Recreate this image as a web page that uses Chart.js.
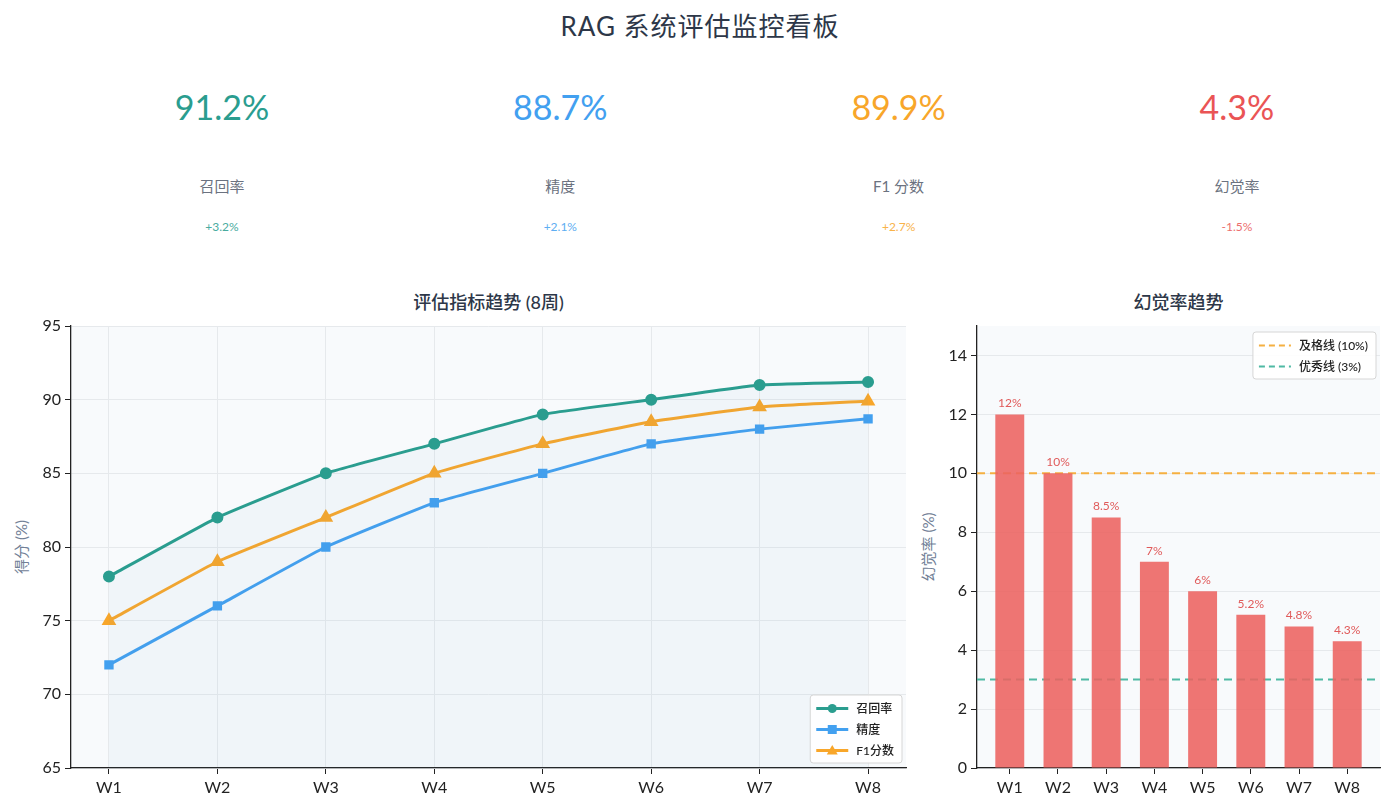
<!DOCTYPE html>
<html>
<head>
<meta charset="utf-8">
<script src="https://cdn.jsdelivr.net/npm/chart.js@4.4.0/dist/chart.umd.min.js"></script>
<style>
  body { margin: 0; width: 1400px; height: 812px; background: #fff; position: relative; overflow: hidden;
         font-family: "Lato", "Noto Sans CJK SC", sans-serif; color: #2d3748; }
  .abs { position: absolute; }
  .main-title { left: 0; width: 1400px; top: 6px; text-align: center; font-size: 26px; letter-spacing: 1px; }
  .kpi { width: 338px; text-align: center; }
  .kpi .val { position: absolute; top: 86px; width: 100%; font-size: 34px; }
  .kpi .lbl { position: absolute; top: 175px; width: 100%; font-size: 15px; color: #6b7280; }
  .kpi .dlt { position: absolute; top: 219px; width: 100%; font-size: 12px; opacity: 0.85; }
  .ctitle { top: 288px; text-align: center; font-size: 18px; font-weight: 500; color: #2d3748; }
  .ytitle { font-size: 15px; color: #718096; transform: translate(-50%, -50%) rotate(-90deg); white-space: nowrap; }
</style>
</head>
<body>
<div class="abs main-title">RAG 系统评估监控看板</div>
<div id="kpis"></div>

<div class="abs ctitle" style="left:71px;width:835px">评估指标趋势 (8周)</div>
<div class="abs ctitle" style="left:977px;width:403px">幻觉率趋势</div>
<div class="abs ytitle" style="left:20px;top:547px">得分 (%)</div>
<div class="abs ytitle" style="left:927px;top:547px">幻觉率 (%)</div>

<div class="abs" style="left:0;top:285px;width:915px;height:527px"><canvas id="trend"></canvas></div>
<div class="abs" style="left:915px;top:285px;width:485px;height:527px"><canvas id="halluc"></canvas></div>

<script>
const WEEKS = ['W1', 'W2', 'W3', 'W4', 'W5', 'W6', 'W7', 'W8'];
const RECALL = [78, 82, 85, 87, 89, 90, 91, 91.2];
const PRECISION = [72, 76, 80, 83, 85, 87, 88, 88.7];
const F1 = [75, 79, 82, 85, 87, 88.5, 89.5, 89.9];
const HALLUCINATION = [12, 10, 8.5, 7, 6, 5.2, 4.8, 4.3];
const PASS_LINE = 10;
const EXCELLENT_LINE = 3;

const KPI_LABELS = ['召回率', '精度', 'F1 分数', '幻觉率'];
const KPI_VALUES = ['91.2%', '88.7%', '89.9%', '4.3%'];
const KPI_DELTAS = ['+3.2%', '+2.1%', '+2.7%', '-1.5%'];

const C_RECALL = '#2a9d8f';
const C_PREC = '#42a0f0';
const C_F1 = '#f8a62a';
const C_RED = '#ea5455';
const KPI_COLORS = [C_RECALL, C_PREC, C_F1, C_RED];
const FONT = '"Lato", "Noto Sans CJK SC", sans-serif';

// KPI row
const kpiBox = document.getElementById('kpis');
KPI_LABELS.forEach((lbl, i) => {
    const d = document.createElement('div');
    d.className = 'abs kpi';
    d.style.left = (53 + i * 338.3) + 'px';
    d.style.top = '0px';
    d.innerHTML = `<div class="val" style="color:${KPI_COLORS[i]}">${KPI_VALUES[i]}</div>
        <div class="lbl">${lbl}</div>
        <div class="dlt" style="color:${KPI_COLORS[i]}">${KPI_DELTAS[i]}</div>`;
    kpiBox.appendChild(d);
});

const plotBg = {
    id: 'plotBg',
    beforeDraw(chart) {
        const { ctx, chartArea: a } = chart;
        ctx.save();
        ctx.fillStyle = '#f8fafc';
        ctx.fillRect(a.left, a.top, a.right - a.left, a.bottom - a.top);
        ctx.restore();
    }
};

function drawMarker(ctx, style, x, y, color) {
    ctx.fillStyle = color;
    ctx.beginPath();
    if (style === 'circle') {
        ctx.arc(x, y, 4.5, 0, Math.PI * 2);
    } else if (style === 'rect') {
        ctx.rect(x - 4.5, y - 4.5, 9, 9);
    } else if (style === 'triangle') {
        ctx.moveTo(x, y - 5.5); ctx.lineTo(x + 5.5, y + 4); ctx.lineTo(x - 5.5, y + 4); ctx.closePath();
    }
    ctx.fill();
}

// matplotlib-like legend box inside the plot area
function boxLegend(id, items, corner) {
    return {
        id,
        afterDraw(chart) {
            const { ctx, chartArea: a } = chart;
            ctx.save();
            ctx.font = '500 12px ' + FONT;
            const rowH = 21, sampleW = 32, pad = 6;
            const textW = Math.max(...items.map(it => ctx.measureText(it.label).width));
            const w = pad + sampleW + 8 + textW + pad + 2;
            const h = items.length * rowH + 5;
            const x = a.right - 4 - w;
            const y = corner === 'top' ? a.top + 6 : a.bottom - 5 - h;
            ctx.fillStyle = 'rgba(255,255,255,0.9)';
            ctx.strokeStyle = '#d6d6d6';
            ctx.lineWidth = 1;
            ctx.beginPath();
            ctx.roundRect(x, y, w, h, 3);
            ctx.fill(); ctx.stroke();
            items.forEach((it, i) => {
                const cy = y + 3 + rowH * i + rowH / 2;
                ctx.strokeStyle = it.color;
                ctx.lineWidth = it.dash ? 2 : 3;
                ctx.setLineDash(it.dash || []);
                ctx.beginPath();
                ctx.moveTo(x + pad, cy); ctx.lineTo(x + pad + sampleW, cy);
                ctx.stroke();
                ctx.setLineDash([]);
                if (it.marker) drawMarker(ctx, it.marker, x + pad + sampleW / 2, cy, it.color);
                ctx.fillStyle = '#222';
                ctx.textBaseline = 'middle';
                ctx.fillText(it.label, x + pad + sampleW + 8, cy + 1);
            });
            ctx.restore();
        }
    };
}

const barLabels = {
    id: 'barLabels',
    afterDatasetsDraw(chart) {
        const { ctx } = chart;
        const meta = chart.getDatasetMeta(0);
        ctx.save();
        ctx.font = '12px ' + FONT;
        ctx.fillStyle = '#e05a5a';
        ctx.textAlign = 'center';
        ctx.textBaseline = 'bottom';
        meta.data.forEach((el, i) => {
            ctx.fillText(HALLUCINATION[i] + '%', el.x, el.y - 5);
        });
        ctx.restore();
    }
};

const tickFont = { family: FONT, size: 16 };
const axisBorder = { display: true, color: '#222', width: 1.3 };

// ---- trend chart ----
const lineMargin = 0.35;
const toPoints = arr => arr.map((v, i) => ({ x: i, y: v }));
const lineSet = (label, data, color, marker, extra) => Object.assign({
    label, data: toPoints(data), borderColor: color, backgroundColor: color,
    pointBackgroundColor: color, pointBorderColor: color, pointStyle: marker,
    pointRadius: marker === 'triangle' ? 5.5 : 4.5,
    borderWidth: 3, tension: 0.12, fill: false
}, extra || {});

new Chart(document.getElementById('trend'), {
    type: 'line',
    data: {
        datasets: [
            lineSet('召回率', RECALL, C_RECALL, 'circle', { fill: { target: 'start', above: 'rgba(90,160,190,0.05)' } }),
            lineSet('精度', PRECISION, C_PREC, 'rect'),
            lineSet('F1分数', F1, C_F1, 'triangle')
        ]
    },
    options: {
        responsive: true,
        maintainAspectRatio: false,
        animation: false,
        layout: { padding: { top: 41, right: 9, left: 0, bottom: 0 } },
        scales: {
            x: {
                type: 'linear',
                min: -lineMargin,
                max: WEEKS.length - 1 + lineMargin,
                afterBuildTicks: s => { s.ticks = WEEKS.map((_, i) => ({ value: i })); },
                afterFit: s => { s.height = 44; },
                ticks: { callback: v => WEEKS[v], color: '#222', font: tickFont, padding: 4 },
                grid: { color: '#e6e9ec', tickColor: '#222', tickLength: 6 },
                border: axisBorder
            },
            y: {
                min: 65, max: 95,
                afterFit: s => { s.width = 71; },
                ticks: { stepSize: 5, color: '#222', font: tickFont, padding: 4 },
                grid: { color: '#e6e9ec', tickColor: '#222', tickLength: 6 },
                border: axisBorder
            }
        },
        plugins: { legend: { display: false }, tooltip: { enabled: false } }
    },
    plugins: [plotBg, boxLegend('trendLegend', [
        { label: '召回率', color: C_RECALL, marker: 'circle' },
        { label: '精度', color: C_PREC, marker: 'rect' },
        { label: 'F1分数', color: C_F1, marker: 'triangle' }
    ], 'bottom')]
});

// ---- hallucination chart ----
const barMargin = 0.68;
const xMin = -barMargin, xMax = WEEKS.length - 1 + barMargin;
const C_PASS = '#f5b041';
const C_EXC = '#4fb9a4';

new Chart(document.getElementById('halluc'), {
    type: 'bar',
    data: {
        datasets: [
            {
                label: '幻觉率', data: toPoints(HALLUCINATION),
                backgroundColor: 'rgba(236,98,96,0.88)', barPercentage: 0.6, categoryPercentage: 1
            },
            {
                type: 'line', label: '及格线 (10%)',
                data: [{ x: xMin, y: PASS_LINE }, { x: xMax, y: PASS_LINE }],
                borderColor: C_PASS, borderWidth: 2, borderDash: [8, 5], pointRadius: 0
            },
            {
                type: 'line', label: '优秀线 (3%)',
                data: [{ x: xMin, y: EXCELLENT_LINE }, { x: xMax, y: EXCELLENT_LINE }],
                borderColor: C_EXC, borderWidth: 2, borderDash: [8, 5], pointRadius: 0
            }
        ]
    },
    options: {
        responsive: true,
        maintainAspectRatio: false,
        animation: false,
        layout: { padding: { top: 41, right: 20, left: 0, bottom: 0 } },
        scales: {
            x: {
                type: 'linear',
                offset: false,
                min: xMin, max: xMax,
                afterBuildTicks: s => { s.ticks = WEEKS.map((_, i) => ({ value: i })); },
                afterFit: s => { s.height = 44; },
                ticks: { callback: v => WEEKS[v], color: '#222', font: tickFont, padding: 4 },
                grid: { offset: false, drawOnChartArea: false, tickColor: '#222', tickLength: 6 },
                border: axisBorder
            },
            y: {
                min: 0, max: 15,
                afterFit: s => { s.width = 62; },
                ticks: { stepSize: 2, includeBounds: false, color: '#222', font: tickFont, padding: 4 },
                grid: { color: '#e6e9ec', tickColor: '#222', tickLength: 6 },
                border: axisBorder
            }
        },
        plugins: { legend: { display: false }, tooltip: { enabled: false } }
    },
    plugins: [plotBg, barLabels, boxLegend('hallLegend', [
        { label: '及格线 (10%)', color: C_PASS, dash: [6, 4] },
        { label: '优秀线 (3%)', color: C_EXC, dash: [6, 4] }
    ], 'top')]
});
</script>
</body>
</html>
